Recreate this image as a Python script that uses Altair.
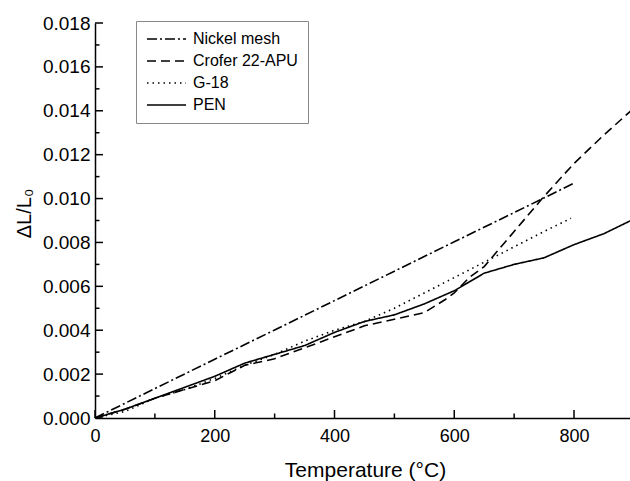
import altair as alt
import pandas as pd

# ---- data ----
series_order = ["Nickel mesh", "Crofer 22-APU", "G-18", "PEN"]

nickel_T = [0, 100, 200, 300, 400, 500, 600, 700, 800]
nickel_v = [0.0, 0.00134, 0.00268, 0.00401, 0.00535, 0.00669, 0.00803, 0.00936, 0.0107]

crofer_T = [0, 50, 100, 150, 200, 250, 300, 350, 400, 450, 500, 550, 585, 600, 625, 650, 700, 750, 800, 850, 895]
crofer_v = [0.0, 0.0004, 0.0009, 0.0013, 0.0017, 0.0024, 0.0027, 0.0032, 0.0037, 0.0042, 0.0045, 0.0048, 0.0054,
            0.0057, 0.0064, 0.0069, 0.0085, 0.0101, 0.0116, 0.0129, 0.0140]

g18_T = [0, 50, 100, 150, 200, 250, 300, 350, 400, 450, 500, 550, 600, 650, 700, 750, 795]
g18_v = [0.0, 0.0003, 0.0009, 0.0013, 0.0018, 0.0024, 0.0029, 0.0035, 0.0040, 0.0044, 0.0050, 0.0057, 0.0064,
         0.0071, 0.0078, 0.0085, 0.0091]

pen_T = [0, 50, 100, 150, 200, 250, 300, 350, 400, 450, 500, 550, 600, 650, 700, 750, 800, 850, 895]
pen_v = [0.0, 0.0004, 0.0009, 0.0014, 0.0019, 0.0025, 0.0029, 0.0033, 0.0039, 0.0044, 0.0047, 0.0052, 0.0058,
         0.0066, 0.0070, 0.0073, 0.0079, 0.0084, 0.0090]

x_major = [0, 200, 400, 600, 800]
x_minor = [100, 300, 500, 700]
y_major = [0.0, 0.002, 0.004, 0.006, 0.008, 0.010, 0.012, 0.014, 0.016, 0.018]
y_minor = [0.001, 0.003, 0.005, 0.007, 0.009, 0.011, 0.013, 0.015, 0.017]

rows = []
for name, T, V in [("Nickel mesh", nickel_T, nickel_v), ("Crofer 22-APU", crofer_T, crofer_v),
                   ("G-18", g18_T, g18_v), ("PEN", pen_T, pen_v)]:
    for t, v in zip(T, V):
        rows.append({"series": name, "T": t, "v": v})
df = pd.DataFrame(rows)

xmaj_df = pd.DataFrame({"T": x_major})
xmin_df = pd.DataFrame({"T": x_minor})
ymaj_df = pd.DataFrame({"v": y_major})
ymin_df = pd.DataFrame({"v": y_minor})

FONT = "Liberation Sans"
W, H = 535, 395

xscale = alt.Scale(domain=[0, 893.5], nice=False, zero=False)
yscale = alt.Scale(domain=[0, 0.018], nice=False)

x_axis = alt.Axis(values=x_major, ticks=False, grid=False, labelPadding=9, labelFontSize=18,
                  labelColor="black", labelFont=FONT, labelFlush=False,
                  domainColor="black", domainWidth=1.5,
                  title="Temperature (°C)", titleFont=FONT, titleFontSize=21, titleFontWeight="normal",
                  titleColor="black", titleX=270, titleY=52, titleAlign="center", titleBaseline="middle")
y_axis = alt.Axis(values=y_major, ticks=False, grid=False, labelPadding=5, labelFontSize=19,
                  labelColor="black", labelFont=FONT, format=".3f", labelFlush=False,
                  domainColor="black", domainWidth=1.5,
                  title="ΔL/L₀", titleFont=FONT, titleFontSize=20, titleFontWeight="normal",
                  titleColor="black", titleX=-71, titleY=190, titleAngle=270, titleAlign="center",
                  titleBaseline="middle")

lines = alt.Chart(df).mark_line(color="black", strokeWidth=1.6, clip=True).encode(
    x=alt.X("T:Q", scale=xscale, axis=x_axis),
    y=alt.Y("v:Q", scale=yscale, axis=y_axis),
    strokeDash=alt.StrokeDash(
        "series:N",
        scale=alt.Scale(domain=series_order, range=[[10, 3, 2, 3], [9, 5], [1.5, 4], [1, 0]]),
        legend=alt.Legend(title=None, orient="none", legendX=41, legendY=-2, padding=10,
                          strokeColor="#888888", fillColor="white", symbolType="stroke",
                          symbolSize=1521, symbolStrokeWidth=1.6, symbolStrokeColor="black",
                          labelFont=FONT, labelFontSize=16, labelColor="black", labelOffset=6,
                          clipHeight=16, rowPadding=6),
    ),
    order=alt.Order("T:Q"),
)

xmaj = alt.Chart(xmaj_df).mark_rule(color="black", strokeWidth=1.5).encode(
    x=alt.X("T:Q", scale=xscale, axis=x_axis), y=alt.value(H), y2=alt.value(H - 8))
xmin = alt.Chart(xmin_df).mark_rule(color="black", strokeWidth=1.5).encode(
    x=alt.X("T:Q", scale=xscale, axis=x_axis), y=alt.value(H), y2=alt.value(H - 4.5))
ymaj = alt.Chart(ymaj_df).mark_rule(color="black", strokeWidth=1.5).encode(
    y=alt.Y("v:Q", scale=yscale, axis=y_axis), x=alt.value(0), x2=alt.value(8))
ymin = alt.Chart(ymin_df).mark_rule(color="black", strokeWidth=1.5).encode(
    y=alt.Y("v:Q", scale=yscale, axis=y_axis), x=alt.value(0), x2=alt.value(4.5))

chart = alt.layer(lines, xmaj, xmin, ymaj, ymin).properties(
    width=W, height=H,
    autosize=alt.AutoSizeParams(type="none"),
    padding={"left": 95, "top": 23, "right": 0, "bottom": 63},
    background="white",
).configure_view(strokeWidth=0)

chart.save("out.html", embed_options={"renderer": "svg", "actions": False})
